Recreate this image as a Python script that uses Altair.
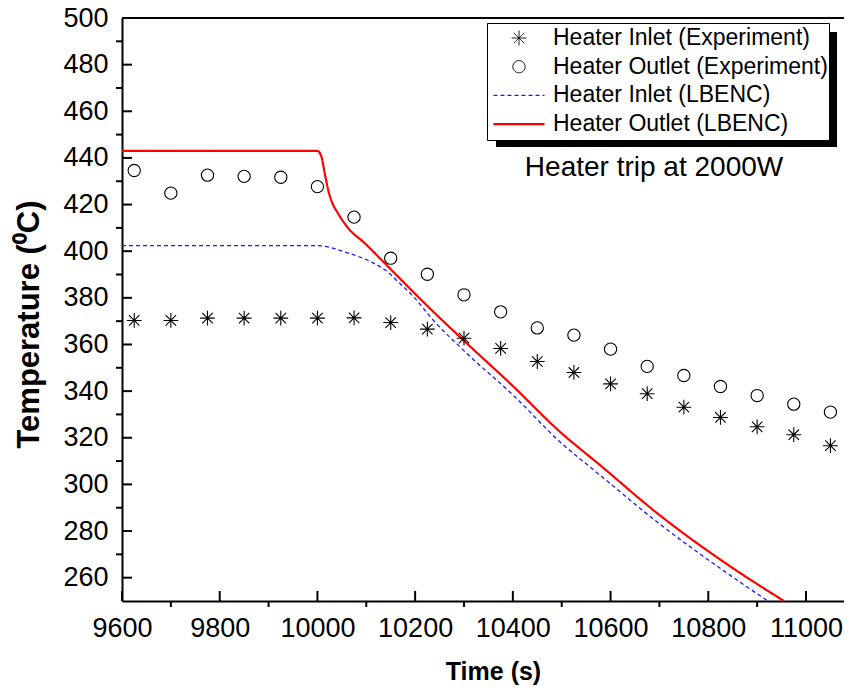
import altair as alt
import pandas as pd

FONT = "Liberation Sans, Arial, sans-serif"

# ---------------- data ----------------
series = [
    "Heater Inlet (Experiment)",
    "Heater Outlet (Experiment)",
    "Heater Inlet (LBENC)",
    "Heater Outlet (LBENC)",
]
series_colors = ["#000000", "#000000", "#1a1aff", "#ff0000"]

exp_time = [9625, 9700, 9775, 9850, 9925, 10000, 10075, 10150, 10225, 10300,
            10375, 10450, 10525, 10600, 10675, 10750, 10825, 10900, 10975, 11050]
exp_inlet = [370.3, 370.3, 371.3, 371.3, 371.3, 371.3, 371.4, 369.4, 366.6, 362.7,
             358.3, 352.7, 348.0, 343.1, 338.9, 333.1, 328.7, 324.7, 321.3, 316.6]
exp_outlet = [434.6, 424.9, 432.6, 432.1, 431.7, 427.7, 414.6, 397.0, 390.1, 381.3,
              374.0, 367.1, 364.0, 358.0, 350.6, 346.7, 342.0, 338.1, 334.4, 331.0]

sim_inlet_time = [9600, 10000, 10063, 10110, 10144, 10165, 10199, 10233, 10298,
                  10404, 10492, 10580, 10697, 10834, 10922]
sim_inlet_temp = [402.4, 402.4, 399.2, 395.4, 391.1, 386.9, 380.0, 371.4, 357.7,
                  337.6, 319.1, 303.7, 283.6, 262.6, 250.0]

sim_outlet_time = [9600, 10000, 10008, 10015, 10022, 10028, 10042, 10063, 10097,
                   10131, 10165, 10233, 10298, 10404, 10492, 10580, 10697, 10834, 10955]
sim_outlet_temp = [443.0, 443.0, 440.6, 433.4, 426.3, 422.0, 416.3, 409.9, 403.4,
                   396.3, 389.1, 374.9, 362.0, 341.4, 323.4, 308.0, 287.4, 266.4, 250.0]

x_major = [9600, 9800, 10000, 10200, 10400, 10600, 10800, 11000]
x_minor = [9700, 9900, 10100, 10300, 10500, 10700, 10900]
y_major = [260, 280, 300, 320, 340, 360, 380, 400, 420, 440, 460, 480, 500]
y_minor = [270, 290, 310, 330, 350, 370, 390, 410, 430, 450, 470, 490]

annot_time = [10689]
annot_temp = [435.7]
annot_text = ["Heater trip at 2000W"]

# ---------------- tables ----------------
pts_df = pd.DataFrame({
    "t": exp_time + exp_time,
    "T": exp_inlet + exp_outlet,
    "series": [series[0]] * len(exp_time) + [series[1]] * len(exp_time),
})
lines_df = pd.DataFrame({
    "t": sim_inlet_time + sim_outlet_time,
    "T": sim_inlet_temp + sim_outlet_temp,
    "series": [series[2]] * len(sim_inlet_time) + [series[3]] * len(sim_outlet_time),
})

W, H = 722, 583

xs = alt.Scale(domain=[9600, 11077.8], nice=False, zero=False)
ys = alt.Scale(domain=[250, 500], nice=False, zero=False)

x_axis = alt.Axis(
    values=x_major, format="d", title="Time (s)", grid=False,
    domain=True, domainColor="black", domainWidth=2,
    ticks=False, tickSize=0, labelFlush=False, labelOverlap=False,
    labelFont=FONT, labelFontSize=27, labelColor="black", labelPadding=14,
    titleFont=FONT, titleFontSize=25, titleFontWeight="bold", titleColor="black",
    titleX=371, titleY=78, titleBaseline="alphabetic", titleAlign="center",
)
y_axis = alt.Axis(
    values=y_major, format="d", title="Temperature (\u2070C)", grid=False,
    domain=True, domainColor="black", domainWidth=2,
    ticks=False, tickSize=0, labelFlush=False, labelOverlap=False,
    labelFont=FONT, labelFontSize=27, labelColor="black", labelPadding=14,
    titleFont=FONT, titleFontSize=31, titleFontWeight="bold", titleColor="black",
    titleX=-84, titleY=306, titleBaseline="alphabetic", titleAlign="center",
    titleAngle=270,
)

STAR = "M0,-0.29L0,0.29M-0.29,0L0.29,0M-0.205,-0.205L0.205,0.205M-0.205,0.205L0.205,-0.205"
CIRC = "M0.24,0A0.24,0.24,0,1,1,-0.24,0A0.24,0.24,0,1,1,0.24,0Z"
LINE = "M-1,0L1,0"

legend = alt.Legend(
    title=None, orient="none", legendX=365, legendY=5, padding=1,
    clipHeight=28, rowPadding=0.7, labelOffset=7, symbolOffset=4, labelLimit=500,
    labelFont=FONT, labelFontSize=23, labelColor="black", labelBaseline="middle",
    symbolSize=2601, symbolFillColor="transparent",
    strokeColor="black", fillColor="white", zindex=1,
)

color = alt.Color("series:N", scale=alt.Scale(domain=series, range=series_colors), legend=legend)
shape = alt.Shape("series:N", scale=alt.Scale(domain=series, range=[STAR, CIRC, LINE, LINE]), legend=legend)
dash = alt.StrokeDash("series:N", scale=alt.Scale(domain=series, range=[[1, 0], [1, 0], [4, 3], [1, 0]]), legend=legend)
swidth = alt.StrokeWidth("series:N", scale=alt.Scale(type="ordinal", domain=series, range=[1, 1, 1.3, 2.2]), legend=legend)

X = lambda f: alt.X(f, scale=xs, axis=x_axis)
Y = lambda f: alt.Y(f, scale=ys, axis=y_axis)

# ---------------- layers ----------------
lines = alt.Chart(lines_df).mark_line(clip=True, interpolate="monotone").encode(
    x=X("t:Q"), y=Y("T:Q"),
    color=color, strokeDash=dash, strokeWidth=swidth,
)
points = alt.Chart(pts_df).mark_point(filled=False, size=2601, opacity=1, strokeWidth=1.1).encode(
    x=X("t:Q"), y=Y("T:Q"),
    color=color, shape=shape,
)
xmaj = alt.Chart(pd.DataFrame({"t": x_major})).mark_rule(color="black", strokeWidth=2).encode(
    x=X("t:Q"), y=alt.value(H), y2=alt.value(H - 10))
xmin = alt.Chart(pd.DataFrame({"t": x_minor})).mark_rule(color="black", strokeWidth=2).encode(
    x=X("t:Q"), y=alt.value(H), y2=alt.value(H + 6))
ymaj = alt.Chart(pd.DataFrame({"T": y_major})).mark_rule(color="black", strokeWidth=2).encode(
    y=Y("T:Q"), x=alt.value(0), x2=alt.value(10))
ymin = alt.Chart(pd.DataFrame({"T": y_minor})).mark_rule(color="black", strokeWidth=2).encode(
    y=Y("T:Q"), x=alt.value(0), x2=alt.value(-6))
top_border = alt.Chart(pd.DataFrame({"a": [0]})).mark_rule(color="black", strokeWidth=2).encode(
    x=alt.value(0), x2=alt.value(W), y=alt.value(0))
shadow = alt.Chart(pd.DataFrame({"a": [0]})).mark_rect(color="black").encode(
    x=alt.value(374), x2=alt.value(715), y=alt.value(14), y2=alt.value(129))
annot = alt.Chart(pd.DataFrame({"t": annot_time, "T": annot_temp, "label": annot_text})).mark_text(
    font=FONT, fontSize=28, color="black", align="center", baseline="middle").encode(
    x=X("t:Q"), y=Y("T:Q"), text="label:N")

chart = alt.layer(lines, points, xmaj, xmin, ymaj, ymin, top_border, shadow, annot).properties(
    width=W, height=H,
    autosize=alt.AutoSizeParams(type="none"),
    padding={"left": 114, "top": 10, "right": 0, "bottom": 85},
    background="white",
).configure_view(stroke=None)

chart.save("out.html", embed_options={"renderer": "svg", "actions": False})
